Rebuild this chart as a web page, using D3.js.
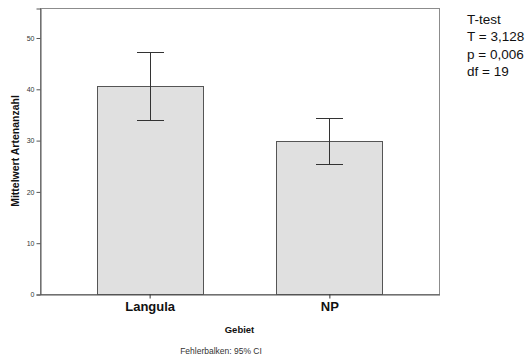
<!DOCTYPE html>
<html>
<head>
<meta charset="utf-8">
<script src="https://cdn.jsdelivr.net/npm/d3@7"></script>
<style>
  body { margin: 0; background: #fff; }
  svg text { font-family: "Liberation Sans", Arial, sans-serif; }
</style>
</head>
<body>
<svg width="532" height="358"></svg>
<script>
// Mittelwerte + 95% CI je Gebiet
var categories = ['Langula', 'NP'];
var means = [40.6, 29.9];
var ciLow = [34.0, 25.4];
var ciHigh = [47.1, 34.4];
var yTicks = [0, 10, 20, 30, 40, 50];
var statLines = ['T-test', 'T = 3,128', 'p = 0,006', 'df = 19'];

var svg = d3.select('svg');
// (window.top is read-only, so no "top" here)
var plotL = 40, plotR = 439, plotT = 8, plotB = 294;

var x = d3.scaleBand()
    .domain(categories)
    .range([plotL, plotR])
    .paddingInner(0.41)
    .paddingOuter(0.315);

var y = d3.scaleLinear()
    .domain([0, 55.75])
    .range([plotB, plotT]);

// frame
svg.append('rect')
    .attr('x', plotL + 0.5).attr('y', plotT + 0.5)
    .attr('width', plotR - plotL).attr('height', plotB - plotT)
    .attr('fill', 'none')
    .attr('stroke', '#8c8c8c')
    .attr('stroke-width', 1);

// bars
svg.selectAll('rect.bar')
    .data(categories)
    .enter().append('rect')
    .attr('class', 'bar')
    .attr('x', function(d) { return Math.round(x(d)) + 0.5; })
    .attr('y', function(d, i) { return Math.round(y(means[i])) + 0.5; })
    .attr('width', Math.round(x.bandwidth()))
    .attr('height', function(d, i) { return plotB - Math.round(y(means[i])); })
    .attr('fill', '#e0e0e0')
    .attr('stroke', '#555')
    .attr('stroke-width', 1);

// error bars
var cap = 13;
function cx(d) { return Math.round(x(d) + x.bandwidth() / 2); }
var eb = svg.selectAll('g.err')
    .data(categories)
    .enter().append('g')
    .attr('class', 'err')
    .attr('stroke', '#333')
    .attr('stroke-width', 1);
eb.append('line')
    .attr('x1', function(d) { return cx(d) + 0.5; })
    .attr('x2', function(d) { return cx(d) + 0.5; })
    .attr('y1', function(d, i) { return Math.round(y(ciHigh[i])) + 0.5; })
    .attr('y2', function(d, i) { return Math.round(y(ciLow[i])) + 0.5; });
eb.append('line')
    .attr('x1', function(d) { return cx(d) - cap; })
    .attr('x2', function(d) { return cx(d) + cap + 1; })
    .attr('y1', function(d, i) { return Math.round(y(ciHigh[i])) + 0.5; })
    .attr('y2', function(d, i) { return Math.round(y(ciHigh[i])) + 0.5; });
eb.append('line')
    .attr('x1', function(d) { return cx(d) - cap; })
    .attr('x2', function(d) { return cx(d) + cap + 1; })
    .attr('y1', function(d, i) { return Math.round(y(ciLow[i])) + 0.5; })
    .attr('y2', function(d, i) { return Math.round(y(ciLow[i])) + 0.5; });

// y axis
var yAxis = svg.append('g')
    .attr('transform', 'translate(' + (plotL + 0.5) + ',0.5)')
    .call(d3.axisLeft(y).tickValues(yTicks).tickSize(4).tickPadding(2));
yAxis.select('.domain').attr('stroke', '#555');
yAxis.selectAll('.tick line').attr('stroke', '#555');
yAxis.selectAll('.tick text').attr('font-size', 7).attr('fill', '#333');

// x axis
var xAxis = svg.append('g')
    .attr('transform', 'translate(0.5,' + (plotB + 0.5) + ')')
    .call(d3.axisBottom(x).tickSize(4).tickSizeOuter(0).tickPadding(3));
xAxis.select('.domain').attr('stroke', '#555');
xAxis.selectAll('.tick line').attr('stroke', '#333');
xAxis.selectAll('.tick text')
    .attr('font-size', 13).attr('font-weight', 'bold').attr('fill', '#111');

// axis titles
svg.append('text')
    .attr('transform', 'translate(19,' + ((plotT + plotB) / 2) + ') rotate(-90)')
    .attr('text-anchor', 'middle')
    .attr('font-size', 10.5).attr('font-weight', 'bold')
    .attr('fill', '#111')
    .text('Mittelwert Artenanzahl');

svg.append('text')
    .attr('x', (plotL + plotR) / 2).attr('y', 333)
    .attr('text-anchor', 'middle')
    .attr('font-size', 9.5).attr('font-weight', 'bold')
    .attr('fill', '#111')
    .text('Gebiet');

svg.append('text')
    .attr('x', 221).attr('y', 354)
    .attr('text-anchor', 'middle')
    .attr('font-size', 8.5)
    .attr('fill', '#333')
    .text('Fehlerbalken: 95% CI');

// stats text
svg.selectAll('text.stat')
    .data(statLines)
    .enter().append('text')
    .attr('class', 'stat')
    .attr('x', 467)
    .attr('y', function(d, i) { return 24 + i * 17.3; })
    .attr('font-size', 13.5)
    .attr('font-family', '"Open Sans", sans-serif')
    .attr('fill', '#111')
    .text(function(d) { return d; });
</script>
</body>
</html>
